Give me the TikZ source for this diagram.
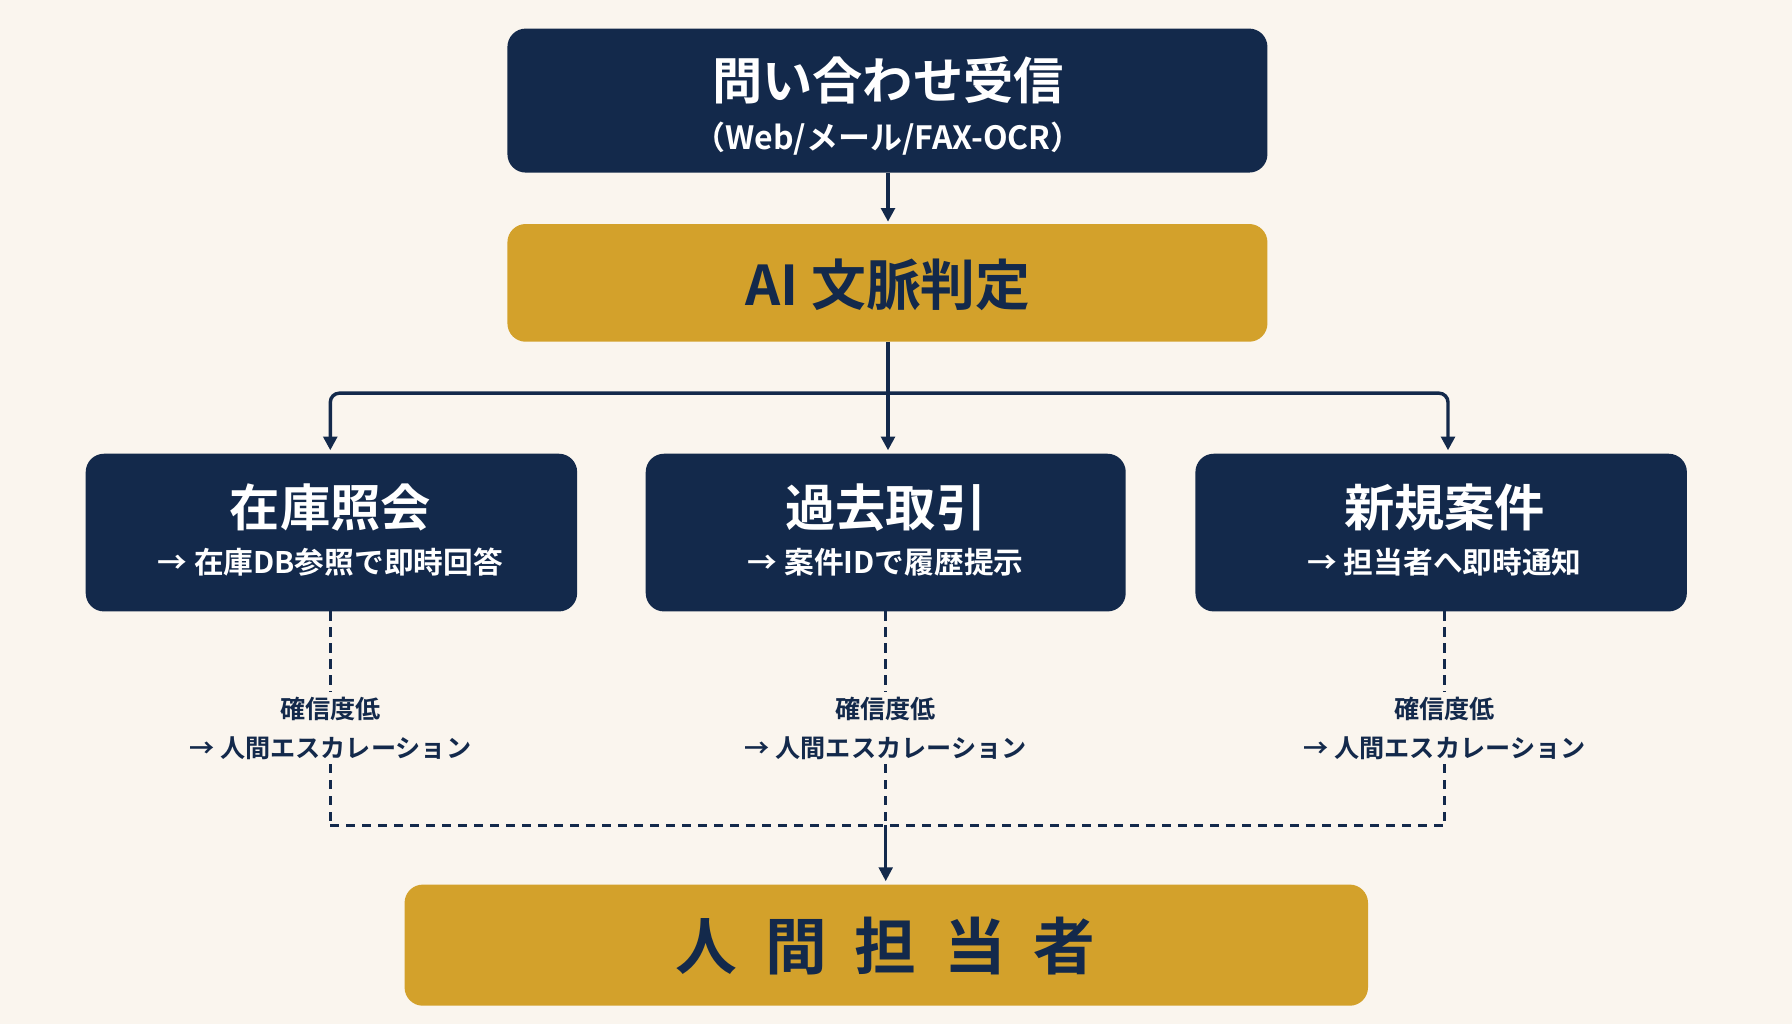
\documentclass[tikz,border=0pt]{standalone}
\usepackage{fontspec}
\setmainfont{Noto Sans CJK JP}[BoldFont={* Bold}]
\usetikzlibrary{arrows.meta}
\definecolor{navy}{HTML}{13294B}
\definecolor{gold}{HTML}{D3A12B}
\definecolor{bg}{HTML}{FAF5EE}
\begin{document}
\begin{tikzpicture}[x=0.5pt,y=-0.5pt,
 box/.style={rounded corners=8pt,inner sep=0pt},
 nbox/.style={box,fill=navy,text=white},
 gbox/.style={box,fill=gold,text=navy},
 line/.style={navy,line width=1.5pt},
 arr/.style={line,-{Triangle[length=6pt,width=6pt]}},
 dline/.style={navy,line width=1.2pt,dash pattern=on 4pt off 3pt},
 lab/.style={text=navy,font=\bfseries\fontsize{11}{17}\selectfont,align=center,fill=bg,inner sep=2pt}]
\fill[bg] (0,0) rectangle (1568,896);
\useasboundingbox (0,0) rectangle (1568,896);
% boxes
\fill[nbox] (444,25) rectangle (1109,151);
\node[text=white,font=\bfseries\fontsize{22}{26}\selectfont] (t1) at (777,70) {問い合わせ受信};
\node[text=white,font=\bfseries\fontsize{14}{16}\selectfont] (t2) at (777,121) {（Web/メール/FAX-OCR）};
\coordinate (top) at (777,151);
\fill[gbox] (444,196) rectangle (1109,299);
\node[text=navy,font=\bfseries\fontsize{24}{28}\selectfont] (ai) at (777,249) {AI 文脈判定};
\coordinate (aitop) at (777,196);
\coordinate (aib) at (777,299);
\foreach \n/\l/\r/\c/\tt/\st in {a/75/505/289/在庫照会/→ 在庫DB参照で即時回答, b/565/985/775/過去取引/→ 案件IDで履歴提示, c/1046/1476/1264/新規案件/→ 担当者へ即時通知}{
 \fill[nbox] (\l,397) rectangle (\r,535);
 \node[text=white,font=\bfseries\fontsize{22}{26}\selectfont,text=white] (\n t) at (\c,444) {\tt};
 \node[text=white,font=\bfseries\fontsize{13}{16}\selectfont] (\n s) at (\c,492) {\st};
 \node[lab] (\n l) at (\c,637) {確信度低\\→ 人間エスカレーション};
 \coordinate (\n b) at (\c,535);
 \coordinate (\n d) at (\c,722);
}
\fill[gbox] (354,774) rectangle (1197,880);
\node[text=navy,font=\bfseries\fontsize{27}{30}\selectfont] (h) at (775,828) {人\hspace{0.45em}間\hspace{0.45em}担\hspace{0.45em}当\hspace{0.45em}者};
% connectors
\draw[arr] (top) -- (777,194);
\coordinate (j) at (777,344);
\draw[line] (aib) -- (j);
\draw[arr] (j) -- (777,394);
\draw[arr,rounded corners=4pt] (j) -- (289,344) -- (289,394);
\draw[arr,rounded corners=4pt] (j) -- (1267,344) -- (1267,394);
\draw[dline] (ab) -- (al.north); \draw[dline] (al.south) -- (ad);
\draw[dline] (bb) -- (bl.north); \draw[dline] (bl.south) -- (bd);
\draw[dline] (cb) -- (cl.north); \draw[dline] (cl.south) -- (cd);
\draw[dline] (ad) -- (cd);
\draw[navy,line width=1.2pt,-{Triangle[length=6pt,width=6pt]}] (bd) -- (775,771);
\end{tikzpicture}
\end{document}
